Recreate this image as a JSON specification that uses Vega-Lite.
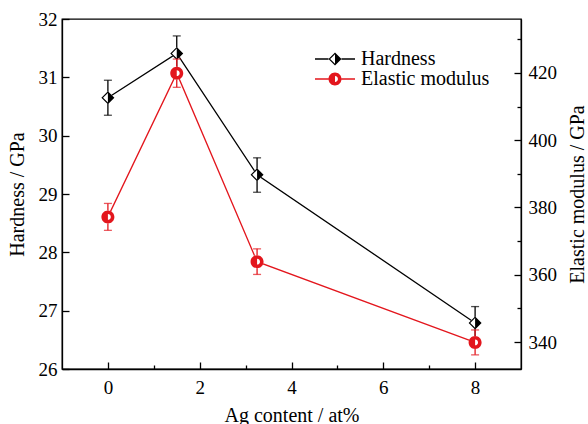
{
  "$schema": "https://vega.github.io/schema/vega-lite/v6.json",
  "width": 459,
  "height": 350,
  "autosize": {"type": "none"},
  "padding": {"left": 62, "top": 19, "right": 67, "bottom": 55},
  "data": {
    "values": [
      {"ag": 0, "h": 30.65, "hlo": 30.35, "hhi": 30.95, "e": 377.2, "elo": 373.2, "ehi": 381.2},
      {"ag": 1.5, "h": 31.41, "hlo": 31.11, "hhi": 31.71, "e": 419.9, "elo": 415.7, "ehi": 424.1},
      {"ag": 3.25, "h": 29.33, "hlo": 29.03, "hhi": 29.62, "e": 363.9, "elo": 360.1, "ehi": 367.7},
      {"ag": 8, "h": 26.79, "hlo": 26.51, "hhi": 27.07, "e": 339.9, "elo": 336.2, "ehi": 343.6}
    ]
  },
  "config": {
    "font": "Liberation Serif",
    "view": {"stroke": "black", "strokeWidth": 1.3},
    "axis": {
      "grid": false,
      "domainColor": "black",
      "domainWidth": 1.3,
      "tickColor": "black",
      "tickWidth": 1.3,
      "labelColor": "black",
      "titleColor": "black",
      "labelFont": "Liberation Serif",
      "titleFont": "Liberation Serif",
      "labelFontSize": 19,
      "titleFontSize": 20,
      "titleFontWeight": "normal"
    },
    "legend": {
      "labelFont": "Liberation Serif",
      "labelFontSize": 20,
      "labelColor": "black"
    }
  },
  "encoding": {
    "x": {
      "field": "ag",
      "type": "quantitative",
      "scale": {"domain": [-1, 9], "nice": false, "zero": false},
      "axis": {
        "title": "Ag content / at%",
        "values": [0, 1, 2, 3, 4, 5, 6, 7, 8],
        "tickSize": {"condition": {"test": "datum.value % 2 !== 0", "value": -4}, "value": -7},
        "labelExpr": "datum.value % 2 === 0 ? datum.label : ''",
        "labelPadding": 16,
        "titlePadding": 8
      }
    }
  },
  "layer": [
    {
      "encoding": {
        "y": {
          "field": "h",
          "type": "quantitative",
          "scale": {"domain": [26, 32], "nice": false, "zero": false},
          "axis": {"orient": "left", "title": "Hardness / GPa", "values": [26, 27, 28, 29, 30, 31, 32], "tickSize": -7, "labelPadding": 12, "titlePadding": 11}
        }
      },
      "layer": [
        {"mark": {"type": "line", "color": "black", "strokeWidth": 1.3}},
        {
          "mark": {"type": "errorbar", "color": "black", "thickness": 1.3, "ticks": {"size": 8, "thickness": 1.3}},
          "encoding": {
            "y": {
              "field": "hlo",
              "type": "quantitative",
              "scale": {"domain": [26, 32], "nice": false, "zero": false},
              "axis": {"orient": "left", "title": "Hardness / GPa", "values": [26, 27, 28, 29, 30, 31, 32], "tickSize": -7, "labelPadding": 12, "titlePadding": 11}
            },
            "y2": {"field": "hhi"}
          }
        },
        {"mark": {"type": "point", "shape": "diamond", "filled": true, "color": "white", "size": 169, "opacity": 1, "strokeWidth": 0}},
        {"mark": {"type": "point", "filled": true, "fill": "black", "shape": "M0,-1L1,0L0,1L-1,0Z M0,-0.745L-0.745,0L0,0.745Z", "strokeWidth": 0, "size": 169, "opacity": 1}},
        {
          "mark": {"type": "point", "filled": true, "size": 0, "strokeWidth": 0, "opacity": 1},
          "encoding": {
            "color": {
              "datum": "Hardness",
              "type": "nominal",
              "scale": {"domain": ["Hardness", "Elastic modulus"], "range": ["black", "#e3161d"]},
              "legend": {
                "title": null,
                "orient": "none",
                "legendX": 263,
                "legendY": 30,
                "padding": 0,
                "symbolSize": 169,
                "symbolStrokeWidth": 0,
                "symbolOpacity": 1,
                "labelOffset": 16,
                "rowPadding": 0
              }
            },
            "shape": {
              "datum": "Hardness",
              "type": "nominal",
              "scale": {
                "domain": ["Hardness", "Elastic modulus"],
                "range": [
                  "M-3.08,-0.1L-1,-0.1L-1,0.1L-3.08,0.1Z M1,-0.1L3.08,-0.1L3.08,0.1L1,0.1Z M0,-1L1,0L0,1L-1,0Z M0,-0.745L-0.745,0L0,0.745Z",
                  "M-3.08,-0.1L-1,-0.1L-1,0.1L-3.08,0.1Z M1,-0.1L3.08,-0.1L3.08,0.1L1,0.1Z M0,-1A1,1 0 1 1 0,1A1,1 0 1 1 0,-1Z M0,-0.45L0,0.45A0.45,0.45 0 0 0 0,-0.45Z"
                ]
              },
              "legend": null
            }
          }
        }
      ]
    },
    {
      "encoding": {
        "y": {
          "field": "e",
          "type": "quantitative",
          "scale": {"domain": [332, 436], "nice": false, "zero": false},
          "axis": {
            "orient": "right",
            "title": "Elastic modulus / GPa",
            "values": [340, 350, 360, 370, 380, 390, 400, 410, 420, 430],
            "tickSize": {"condition": {"test": "datum.value % 20 !== 0", "value": -4}, "value": -7},
            "labelExpr": "datum.value % 20 === 0 ? datum.label : ''",
            "labelPadding": 14,
            "titleAngle": 270,
            "titleBaseline": "top",
            "titlePadding": 11
          }
        }
      },
      "layer": [
        {"mark": {"type": "line", "color": "#e3161d", "strokeWidth": 1.3}},
        {
          "mark": {"type": "errorbar", "color": "#e3161d", "thickness": 1.3, "ticks": {"size": 8, "thickness": 1.3}},
          "encoding": {
            "y": {
              "field": "elo",
              "type": "quantitative",
              "scale": {"domain": [332, 436], "nice": false, "zero": false},
              "axis": {
                "orient": "right",
                "title": "Elastic modulus / GPa",
                "values": [340, 350, 360, 370, 380, 390, 400, 410, 420, 430],
                "tickSize": {"condition": {"test": "datum.value % 20 !== 0", "value": -4}, "value": -7},
                "labelExpr": "datum.value % 20 === 0 ? datum.label : ''",
                "labelPadding": 14,
                "titleAngle": 270,
                "titleBaseline": "top",
                "titlePadding": 11
              }
            },
            "y2": {"field": "ehi"}
          }
        },
        {"mark": {"type": "point", "shape": "circle", "filled": true, "color": "white", "size": 169, "opacity": 1, "strokeWidth": 0}},
        {"mark": {"type": "point", "filled": true, "fill": "#e3161d", "shape": "M0,-1A1,1 0 1 1 0,1A1,1 0 1 1 0,-1Z M0,-0.45L0,0.45A0.45,0.45 0 0 0 0,-0.45Z", "strokeWidth": 0, "size": 169, "opacity": 1}}
      ]
    }
  ],
  "resolve": {"scale": {"y": "independent"}}
}
